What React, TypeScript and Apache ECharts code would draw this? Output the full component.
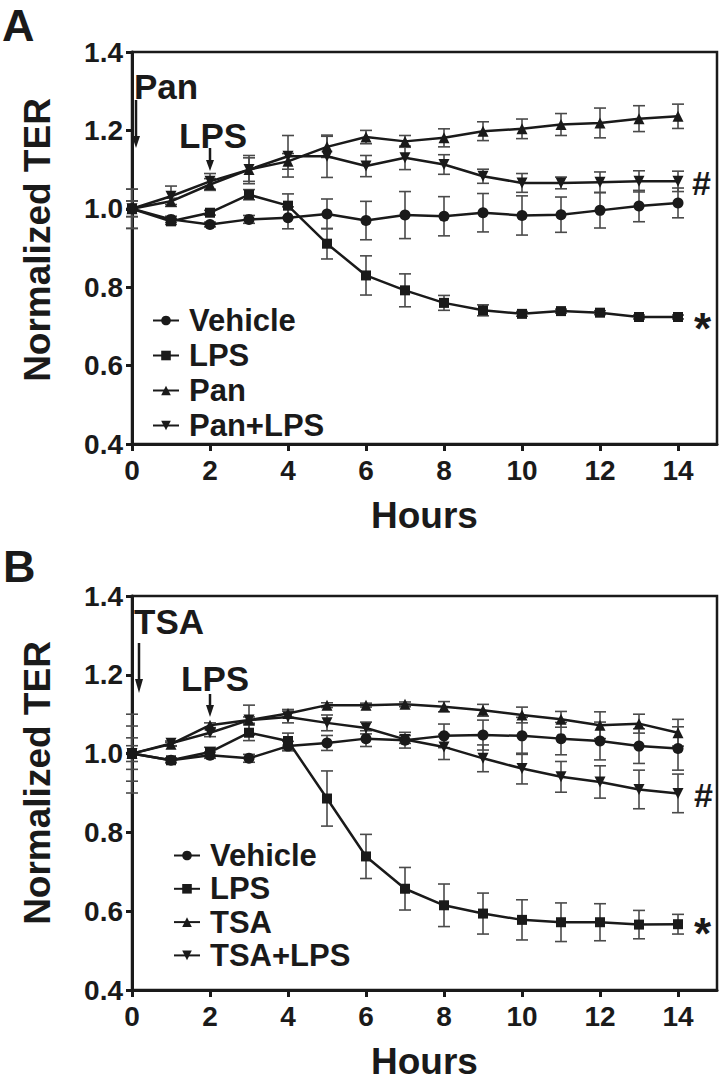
import React, { useEffect, useRef } from "react";
import * as echarts from "echarts";

// ---------- data ----------
const hours = [0, 1, 2, 3, 4, 5, 6, 7, 8, 9, 10, 11, 12, 13, 14];
const xTickValues = [0, 2, 4, 6, 8, 10, 12, 14];

// Panel A
const namesA = ["Vehicle", "LPS", "Pan", "Pan+LPS"];
const vehicleA = [1.0, 0.973, 0.96, 0.973, 0.977, 0.987, 0.97, 0.984, 0.981, 0.99, 0.983, 0.985, 0.996, 1.007, 1.015];
const vehicleAErr = [0.02, 0.008, 0.006, 0.01, 0.028, 0.038, 0.049, 0.06, 0.05, 0.049, 0.05, 0.045, 0.045, 0.04, 0.038];
const lpsA = [1.0, 0.968, 0.99, 1.036, 1.008, 0.911, 0.83, 0.792, 0.76, 0.741, 0.732, 0.739, 0.735, 0.724, 0.724];
const lpsAErr = [0.02, 0.008, 0.006, 0.013, 0.03, 0.039, 0.05, 0.042, 0.019, 0.014, 0.006, 0.005, 0.005, 0.005, 0.005];
const panA = [1.0, 1.019, 1.062, 1.1, 1.121, 1.158, 1.183, 1.172, 1.181, 1.198, 1.204, 1.215, 1.219, 1.23, 1.236];
const panAErr = [0.05, 0.008, 0.015, 0.036, 0.02, 0.027, 0.017, 0.015, 0.023, 0.024, 0.025, 0.028, 0.038, 0.033, 0.031];
const panLpsA = [1.0, 1.032, 1.07, 1.1, 1.134, 1.134, 1.109, 1.13, 1.113, 1.083, 1.066, 1.066, 1.068, 1.07, 1.07];
const panLpsAErr = [0.05, 0.026, 0.02, 0.03, 0.053, 0.054, 0.027, 0.03, 0.025, 0.018, 0.024, 0.015, 0.026, 0.027, 0.026];

// Panel B
const namesB = ["Vehicle", "LPS", "TSA", "TSA+LPS"];
const vehicleB = [1.0, 0.983, 0.996, 0.988, 1.019, 1.027, 1.038, 1.034, 1.045, 1.047, 1.045, 1.038, 1.032, 1.019, 1.013];
const vehicleBErr = [0.04, 0.006, 0.008, 0.01, 0.012, 0.019, 0.02, 0.02, 0.03, 0.038, 0.047, 0.041, 0.048, 0.044, 0.055];
const lpsB = [1.0, 0.983, 1.004, 1.053, 1.032, 0.886, 0.739, 0.657, 0.615, 0.594, 0.578, 0.572, 0.572, 0.566, 0.567];
const lpsBErr = [0.07, 0.006, 0.012, 0.02, 0.02, 0.07, 0.056, 0.054, 0.054, 0.052, 0.051, 0.049, 0.047, 0.036, 0.025];
const tsaB = [1.0, 1.024, 1.072, 1.085, 1.102, 1.123, 1.123, 1.125, 1.119, 1.11, 1.098, 1.087, 1.072, 1.076, 1.053];
const tsaBErr = [0.1, 0.005, 0.006, 0.008, 0.01, 0.006, 0.005, 0.006, 0.013, 0.015, 0.02, 0.02, 0.034, 0.024, 0.034];
const tsaLpsB = [1.0, 1.026, 1.053, 1.085, 1.093, 1.078, 1.065, 1.036, 1.017, 0.988, 0.962, 0.941, 0.928, 0.909, 0.899];
const tsaLpsBErr = [0.02, 0.006, 0.01, 0.038, 0.015, 0.02, 0.015, 0.01, 0.032, 0.034, 0.039, 0.039, 0.041, 0.049, 0.049];

// ---------- style ----------
const FONT = '"Liberation Sans", Arial, Helvetica, sans-serif';
const INK = "#1a1a1a";
const ERR = "#4a4a4a";

const symbols = [
  { symbol: "circle", size: 11, rotate: 0 },
  { symbol: "rect", size: 10, rotate: 0 },
  { symbol: "triangle", size: 11, rotate: 0 },
  { symbol: "triangle", size: 11, rotate: 180 },
];

function errData(mean: number[], err: number[]) {
  return hours.map((h, i) => [h, mean[i] - err[i], mean[i] + err[i]]);
}

function renderError(params: any, api: any) {
  const x = api.value(0);
  const lo = api.value(1);
  const hi = api.value(2);
  const a = api.coord([x, hi]);
  const b = api.coord([x, lo]);
  const w = 6;
  const style = { stroke: ERR, lineWidth: 1.6, fill: "none" };
  return {
    type: "group",
    children: [
      { type: "line", shape: { x1: a[0], y1: a[1], x2: b[0], y2: b[1] }, style },
      { type: "line", shape: { x1: a[0] - w, y1: a[1], x2: a[0] + w, y2: a[1] }, style },
      { type: "line", shape: { x1: b[0] - w, y1: b[1], x2: b[0] + w, y2: b[1] }, style },
    ],
  };
}

function buildSeries(names: string[], means: number[][], errs: number[][], idx: number) {
  const out: any[] = [];
  means.forEach((m, k) => {
    out.push({
      type: "custom",
      name: names[k] + "-err-" + idx,
      xAxisIndex: idx,
      yAxisIndex: idx,
      renderItem: renderError,
      encode: { x: 0, y: [1, 2] },
      data: errData(m, errs[k]),
      z: 1,
      silent: true,
    });
  });
  means.forEach((m, k) => {
    out.push({
      type: "line",
      name: names[k],
      xAxisIndex: idx,
      yAxisIndex: idx,
      data: hours.map((h, i) => [h, m[i]]),
      symbol: symbols[k].symbol,
      symbolSize: symbols[k].size,
      symbolRotate: symbols[k].rotate,
      showAllSymbol: true,
      lineStyle: { color: INK, width: 2.5 },
      itemStyle: { color: INK },
      z: 3,
    });
  });
  return out;
}

function xAxis(gridIndex: number) {
  return {
    type: "value",
    gridIndex,
    min: 0,
    max: 15,
    axisLine: { show: true, lineStyle: { color: INK, width: 3 } },
    axisTick: { show: true, length: 7, lineStyle: { color: INK, width: 3 }, customValues: xTickValues },
    axisLabel: {
      customValues: xTickValues,
      color: INK,
      fontSize: 28,
      fontWeight: "bold",
      fontFamily: FONT,
      margin: 12,
    },
    splitLine: { show: false },
    name: "Hours",
    nameLocation: "middle",
    nameGap: 53,
    nameTextStyle: { color: INK, fontSize: 37, fontWeight: "bold", fontFamily: FONT },
  };
}

function yAxis(gridIndex: number) {
  return {
    type: "value",
    gridIndex,
    min: 0.4,
    max: 1.4,
    interval: 0.2,
    axisLine: { show: true, lineStyle: { color: INK, width: 3 } },
    axisTick: { show: true, length: 6, lineStyle: { color: INK, width: 3 } },
    axisLabel: {
      color: INK,
      fontSize: 28,
      fontWeight: "bold",
      fontFamily: FONT,
      margin: 9,
      formatter: (v: number) => v.toFixed(1),
    },
    splitLine: { show: false },
  };
}

function legend(names: string[], left: number, top: number, gap: number) {
  return {
    orient: "vertical",
    left,
    top,
    data: names,
    itemWidth: 26,
    itemHeight: 12,
    itemGap: gap,
    selectedMode: false,
    textStyle: {
      color: INK,
      fontSize: 31,
      fontWeight: "bold",
      fontFamily: FONT,
      lineHeight: 30,
      padding: [0, 0, 0, 5],
    },
  };
}

function txt(text: string, x: number, y: number, size: number, extra: any = {}) {
  return {
    type: "text",
    x,
    y,
    silent: true,
    style: {
      text,
      fill: INK,
      fontSize: size,
      fontWeight: "bold",
      fontFamily: FONT,
      align: "left",
      verticalAlign: "middle",
      ...extra,
    },
  };
}

function arrow(x: number, y0: number, y1: number, headLen: number) {
  return [
    { type: "line", silent: true, shape: { x1: x, y1: y0, x2: x, y2: y1 - headLen + 1 }, style: { stroke: INK, lineWidth: 2.5 } },
    {
      type: "polygon",
      silent: true,
      shape: { points: [[x - 4, y1 - headLen], [x + 4, y1 - headLen], [x, y1]] },
      style: { fill: INK },
    },
  ];
}

export default function App() {
  const ref = useRef<HTMLDivElement>(null);
  useEffect(() => {
    if (!ref.current) return;
    const chart = echarts.init(ref.current, undefined, { renderer: "svg" });
    const option: any = {
      animation: false,
      backgroundColor: "#ffffff",
      textStyle: { fontFamily: FONT },
      grid: [
        { left: 132, top: 52, width: 585, height: 392, show: true, borderColor: INK, borderWidth: 2.5, backgroundColor: "transparent" },
        { left: 132, top: 596, width: 585, height: 394, show: true, borderColor: INK, borderWidth: 2.5, backgroundColor: "transparent" },
      ],
      xAxis: [xAxis(0), xAxis(1)],
      yAxis: [yAxis(0), yAxis(1)],
      legend: [legend(namesA, 147, 300, 4), legend(namesB, 168, 835, 2.3)],
      series: [
        ...buildSeries(namesA, [vehicleA, lpsA, panA, panLpsA], [vehicleAErr, lpsAErr, panAErr, panLpsAErr], 0),
        ...buildSeries(namesB, [vehicleB, lpsB, tsaB, tsaLpsB], [vehicleBErr, lpsBErr, tsaBErr, tsaLpsBErr], 1),
      ],
      graphic: [
        txt("A", 2, 25, 45),
        txt("B", 3, 566, 45),
        txt("Normalized TER", 37, 240, 37, { align: "center" }) as any,
        txt("Normalized TER", 37, 783, 37, { align: "center" }) as any,
        txt("Pan", 134, 86, 35),
        txt("LPS", 179, 135, 35),
        txt("TSA", 134, 621, 35),
        txt("LPS", 181, 678, 35),
        txt("#", 692, 183, 34),
        txt("*", 694, 328, 44),
        txt("#", 694, 795, 34),
        txt("*", 694, 933, 44),
        ...arrow(136, 100, 148, 12),
        ...arrow(210, 148, 171, 11),
        ...arrow(139, 643, 693, 14),
        ...arrow(210, 694, 717, 12),
      ],
    };
    option.graphic[2].rotation = Math.PI / 2;
    option.graphic[3].rotation = Math.PI / 2;
    chart.setOption(option);
    return () => chart.dispose();
  }, []);
  return (
    <div
      ref={ref}
      style={{ position: "absolute", left: 0, top: 0, width: 720, height: 1090, background: "#fff" }}
    />
  );
}
